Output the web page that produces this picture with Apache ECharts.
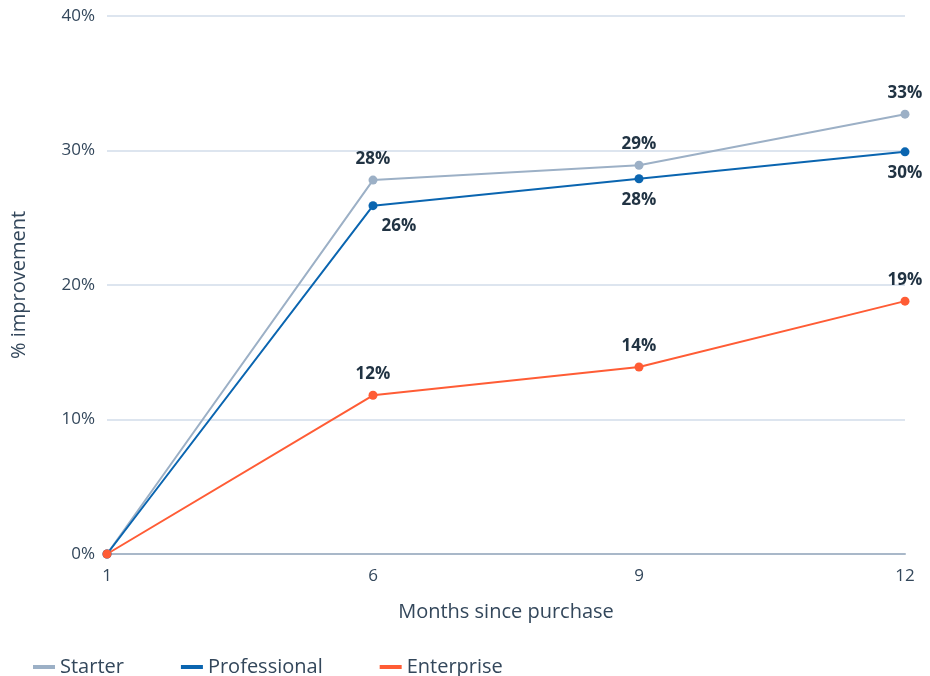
<!DOCTYPE html>
<html><head><meta charset="utf-8">
<script src="https://cdn.jsdelivr.net/npm/echarts@6/dist/echarts.min.js"></script>
<style>html,body{margin:0;padding:0;background:#fff}#c{width:930px;height:676px}</style>
</head><body><div id="c"></div>
<script>
const categories = ['1', '6', '9', '12'];
const starter = [0, 27.8, 28.9, 32.7];
const professional = [0, 25.9, 27.9, 29.9];
const enterprise = [0, 11.8, 13.9, 18.8];
const yTicks = [0, 10, 20, 30, 40];

const font = '"Open Sans", "Noto Sans", sans-serif';
const textColor = '#33475b';
const labelFmt = p => p.value === 0 ? '' : Math.round(p.value) + '%';

function mk(name, data, color, pos, offsets) {
  return {
    name, type: 'line',
    data: data.map((v, i) => (offsets && offsets[i]) ? { value: v, label: { offset: offsets[i] } } : v),
    symbol: 'circle', symbolSize: 9,
    lineStyle: { color, width: 2 },
    itemStyle: { color },
    label: { show: true, position: pos, formatter: labelFmt, fontFamily: font,
             fontWeight: 'bold', fontSize: 17, color: '#213343', distance: 8 },
    emphasis: { disabled: true }
  };
}

const chart = echarts.init(document.getElementById('c'));
chart.setOption({
  animation: false,
  grid: { left: 107, right: 25, top: 16, bottom: 122 },
  legend: {
    left: 28, top: 652, icon: 'rect', itemWidth: 22, itemHeight: 4, itemGap: 57,
    textStyle: { fontFamily: font, fontSize: 20, color: textColor },
    data: ['Starter', 'Professional', 'Enterprise']
  },
  xAxis: {
    type: 'category', data: categories, boundaryGap: false,
    name: 'Months since purchase', nameLocation: 'middle', nameGap: 48,
    nameTextStyle: { fontFamily: font, fontSize: 20, color: textColor },
    axisLine: { lineStyle: { color: '#a9b8c9', width: 2 } },
    axisTick: { show: false },
    axisLabel: { fontFamily: font, fontSize: 17, color: textColor, margin: 14 }
  },
  yAxis: {
    type: 'value', min: yTicks[0], max: yTicks[yTicks.length - 1], interval: 10,
    name: '% improvement', nameLocation: 'middle', nameGap: 78,
    nameTextStyle: { fontFamily: font, fontSize: 20, color: textColor },
    axisLine: { show: false }, axisTick: { show: false },
    axisLabel: { fontFamily: font, fontSize: 17, color: textColor, margin: 12, formatter: '{value}%' },
    splitLine: { lineStyle: { color: '#dde5ef', width: 2 } }
  },
  series: [
    mk('Starter', starter, '#9cb0c6', 'top'),
    mk('Professional', professional, '#0a65b0', 'bottom', [null, [26, 0], null, null]),
    mk('Enterprise', enterprise, '#ff5c35', 'top')
  ]
});
</script></body></html>
